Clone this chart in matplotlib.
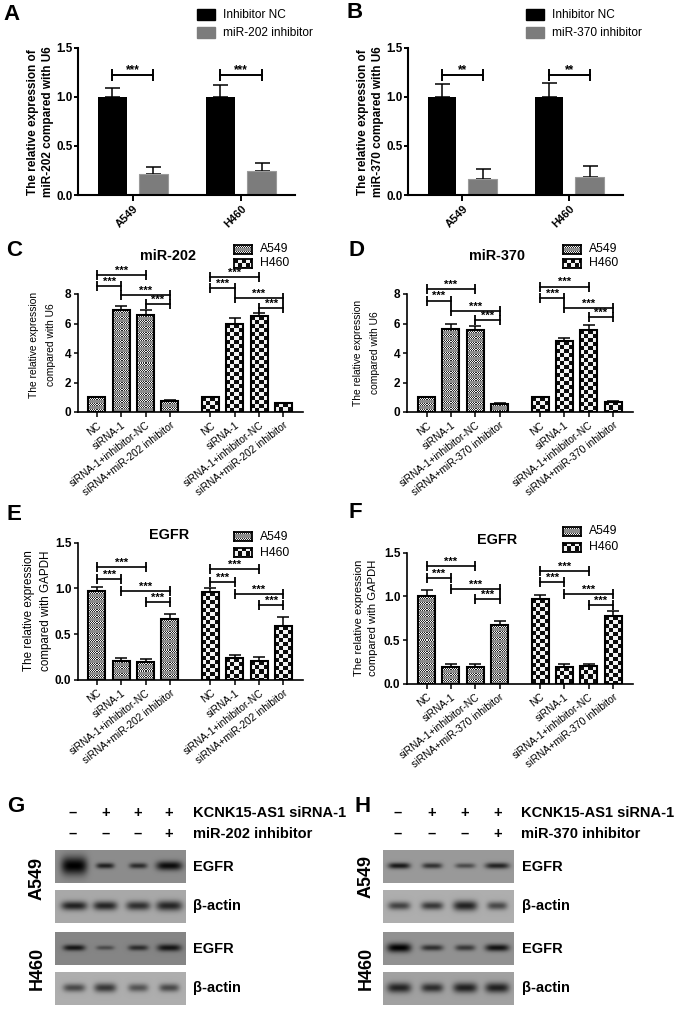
import numpy as np
import matplotlib
matplotlib.use('Agg')
import matplotlib.pyplot as plt
from matplotlib.patches import Rectangle

plt.rcParams['font.family'] = ['Liberation Sans', 'DejaVu Sans']
W, H = 677, 1009
fig = plt.figure(figsize=(W / 100, H / 100), dpi=100, facecolor='white')


def px_axes(x0, ytop, x1, ybot):
    ax = fig.add_axes([x0 / W, 1 - ybot / H, (x1 - x0) / W, (ybot - ytop) / H])
    ax.patch.set_alpha(0)
    for s in ('top', 'right'):
        ax.spines[s].set_visible(False)
    return ax


def ftext(x, y, s, **kw):
    kw.setdefault('ha', 'left')
    kw.setdefault('va', 'center')
    fig.text(x / W, 1 - y / H, s, **kw)


# ---------- data: top bar panels ----------
groups_top = ['A549', 'H460']
a_labels = ['Inhibitor NC', 'miR-202 inhibitor']
b_labels = ['Inhibitor NC', 'miR-370 inhibitor']
a_nc = [1.0, 1.0]
a_nc_err = [0.09, 0.12]
a_inh = [0.21, 0.24]
a_inh_err = [0.08, 0.09]
b_nc = [1.0, 1.0]
b_nc_err = [0.13, 0.14]
b_inh = [0.16, 0.18]
b_inh_err = [0.11, 0.12]
top_bracket = 1.22

# ---------- data: grouped panels ----------
cats_202 = ['NC', 'siRNA-1', 'siRNA-1+inhibitor-NC', 'siRNA+miR-202 inhibitor']
cats_370 = ['NC', 'siRNA-1', 'siRNA-1+inhibitor-NC', 'siRNA+miR-370 inhibitor']
c_vals = [1.0, 6.9, 6.6, 0.72, 1.0, 5.95, 6.5, 0.58]
c_errs = [0.05, 0.3, 0.3, 0.08, 0.03, 0.4, 0.2, 0.05]
c_brk = [9.3, 8.54, 7.9, 7.3, 9.13, 8.38, 7.75, 7.05]
d_vals = [1.0, 5.65, 5.55, 0.55, 1.0, 4.8, 5.55, 0.68]
d_errs = [0.05, 0.35, 0.3, 0.05, 0.05, 0.25, 0.35, 0.04]
d_brk = [8.34, 7.55, 6.85, 6.24, 8.5, 7.7, 7.05, 6.44]
e_vals = [0.97, 0.21, 0.19, 0.66, 0.96, 0.24, 0.2, 0.59]
e_errs = [0.05, 0.03, 0.04, 0.06, 0.04, 0.03, 0.05, 0.1]
e_brk = [1.237, 1.10, 0.97, 0.847, 1.208, 1.073, 0.94, 0.818]
f_vals = [1.0, 0.19, 0.19, 0.67, 0.97, 0.19, 0.2, 0.77]
f_errs = [0.07, 0.03, 0.04, 0.05, 0.05, 0.04, 0.03, 0.06]
f_brk = [1.35, 1.206, 1.084, 0.966, 1.29, 1.168, 1.023, 0.90]
x_positions = [0, 1, 2, 3, 4.67, 5.67, 6.67, 7.67]
bracket_spans = [(0, 2), (0, 1), (1, 3), (2, 3)]

# ---------- data: blots (darkness, half width px, half height px) ----------
blot_cols = ['-', '+', '+', '+']
blot_inh = ['-', '-', '-', '+']
g_bx = [19, 50, 83, 114]
h_bx = [16, 49, 82, 114]
g1_bg, g1 = 0.55, [(1.0, 13, 9), (0.78, 9, 2.8), (0.7, 9, 2.8), (0.92, 13, 4.5)]
g2_bg, g2 = 0.66, [(0.8, 13, 4.5), (0.78, 12, 4.5), (0.72, 12, 4.5), (0.78, 13, 5)]
g3_bg, g3 = 0.52, [(0.85, 11, 3), (0.45, 9, 2.2), (0.68, 10, 2.8), (0.85, 12, 3.5)]
g4_bg, g4 = 0.68, [(0.58, 11, 4), (0.68, 11, 4.5), (0.52, 10, 4), (0.58, 10, 4)]
h1_bg, h1 = 0.6, [(0.85, 11, 3), (0.68, 10, 2.8), (0.52, 10, 2.5), (0.78, 12, 3)]
h2_bg, h2 = 0.68, [(0.62, 11, 4), (0.68, 11, 4), (0.8, 12, 5), (0.58, 10, 4)]
h3_bg, h3 = 0.57, [(1.0, 12, 4.5), (0.68, 11, 3), (0.62, 10, 3), (0.88, 12, 3.5)]
h4_bg, h4 = 0.63, [(0.78, 12, 5), (0.72, 11, 4.5), (0.8, 12, 5), (0.8, 12, 5)]


def pattern(kind, nx, ny):
    yy, xx = np.indices((max(ny, 1), max(nx, 1)))
    if kind == 'fine':
        chk = np.where((xx + yy) % 2 == 0, 0.15, 0.95)
        return np.where((yy // 3) % 2 == 0, chk, 0.55)
    return np.where(((xx // 4) + (yy // 4)) % 2 == 0, 0.05, 0.95)


def panel_top(ax, nc, nc_err, inh, inh_err, stars, legend, lx, ly_pos):
    xs = np.arange(len(groups_top))
    w, off = 0.268, 0.19
    ax.bar(xs - off, nc, w, color='black', zorder=2)
    ax.bar(xs + off, inh, w, color='#7c7c7c', edgecolor='#9a9a9a', linewidth=0.8, zorder=2)
    ekw = dict(fmt='none', ecolor='black', elinewidth=1.1, capsize=5.4, capthick=1.1, zorder=1)
    ax.errorbar(xs - off, nc, yerr=[[0, 0], nc_err], **ekw)
    ax.errorbar(xs + off, inh, yerr=[[0, 0], inh_err], **ekw)
    ax.set_xlim(-0.506, 1.5)
    ax.set_ylim(0, 1.5)
    ax.set_yticks([0, 0.5, 1.0, 1.5], ['0.0', '0.5', '1.0', '1.5'], fontweight='bold', fontsize=8.4)
    ax.set_xticks(xs)
    ax.set_xticklabels(groups_top, rotation=45, ha='right', rotation_mode='anchor',
                       fontweight='bold', fontsize=8)
    ax.tick_params(axis='y', length=3, width=1.4, pad=1)
    ax.tick_params(axis='x', length=4.2, width=1.4, pad=2)
    ax.spines['left'].set_linewidth(1.5)
    ax.spines['bottom'].set_linewidth(1.5)
    for x in xs:
        ax.plot([x - off, x + off], [top_bracket] * 2, color='black', lw=1.4, marker='|',
                ms=8, mew=1.4, clip_on=False, zorder=4)
        ax.annotate(stars, (x, top_bracket), xytext=(0, -0.5), textcoords='offset points',
                    ha='center', va='bottom', fontsize=8.5, fontweight='bold', zorder=4,
                    annotation_clip=False)
    for i, (lab, col) in enumerate(zip(legend, ['black', '#7c7c7c'])):
        fig.add_artist(Rectangle((lx / W, 1 - (ly_pos[i] + 11) / H), 18 / W, 11 / H, color=col,
                                 transform=fig.transFigure))
        ftext(lx + 26, ly_pos[i] + 5.5, lab, fontsize=8.6)


def panel_group(ax, xl, vals, errs, brks, cats, ymax, yticks, ylabs):
    ax.set_xlim(xl)
    ax.set_ylim(0, ymax)
    wpx = ax.get_window_extent().width / (xl[1] - xl[0])
    hpx = ax.get_window_extent().height / ymax
    bw = 0.70
    xs = np.array(x_positions)
    ax.errorbar(xs, vals, yerr=[np.zeros(8), errs], fmt='none', ecolor='black',
                elinewidth=1.1, capsize=4.6, capthick=1.1, zorder=1)
    for i, (x, v) in enumerate(zip(xs, vals)):
        kind = 'fine' if i < 4 else 'coarse'
        nx, ny = int(round(bw * wpx)), int(round(v * hpx))
        ax.imshow(pattern(kind, nx, ny), cmap='gray', vmin=0, vmax=1, aspect='auto',
                  interpolation='nearest', extent=[x - bw / 2, x + bw / 2, 0, v], zorder=2)
    ax.bar(xs, vals, bw, facecolor='none', edgecolor='black', linewidth=1.5, zorder=3)
    ax.set_xlim(xl)
    ax.set_ylim(0, ymax)
    ax.set_yticks(yticks, ylabs, fontweight='bold', fontsize=8.5)
    ax.set_xticks(xs)
    ax.set_xticklabels(cats + cats, rotation=38, ha='right', rotation_mode='anchor', fontsize=7.4)
    ax.tick_params(length=3.4, width=1.1, pad=2.5)
    ax.tick_params(axis='y', length=3, pad=1.5)
    ax.spines['left'].set_linewidth(1.2)
    ax.spines['bottom'].set_linewidth(1.2)
    for i, b in enumerate(brks):
        base = 0 if i < 4 else 4
        a, c = bracket_spans[i - base]
        xa, xc = xs[base + a], xs[base + c]
        ax.plot([xa, xc], [b, b], color='black', lw=1.2, marker='|', ms=7.5, mew=1.3,
                clip_on=False, zorder=4)
        ax.annotate('***', ((xa + xc) / 2, b), xytext=(0, -0.5), textcoords='offset points',
                    ha='center', va='bottom', fontsize=8, fontweight='bold', zorder=4,
                    annotation_clip=False)


def legend_group(x, y1, y2):
    for kind, y, lab in (('fine', y1, 'A549'), ('coarse', y2, 'H460')):
        a = fig.add_axes([x / W, 1 - (y + 9) / H, 18 / W, 9 / H])
        a.imshow(pattern(kind, 18, 9), cmap='gray', vmin=0, vmax=1, aspect='auto', interpolation='nearest')
        a.set_xticks([])
        a.set_yticks([])
        for s in a.spines.values():
            s.set_linewidth(1.3)
        ftext(x + 26, y + 4.5, lab, fontsize=8.8)


def blot(x0, y0, bx, bg, bands):
    h, w = 33, 131
    yy, xx = np.indices((h * 2, w * 2)) / 2.0
    img = np.full(xx.shape, float(bg))
    for cx, (s, hw, hh) in zip(bx, bands):
        img = img * (1 - s * np.exp(-((xx - cx) / hw) ** 4 - ((yy - h * 0.47) / hh) ** 2))
    a = fig.add_axes([x0 / W, 1 - (y0 + h) / H, w / W, h / H])
    a.imshow(img, cmap='gray', vmin=0, vmax=1, aspect='auto', interpolation='bilinear')
    a.axis('off')


# ---------- panels A, B ----------
toplab = dict(rotation=90, ha='center', fontweight='bold', fontsize=8.5,
              multialignment='center', linespacing=1.4)
axA = px_axes(78.3, 48, 295, 195)
panel_top(axA, a_nc, a_nc_err, a_inh, a_inh_err, '***', a_labels, 197, [9, 27])
ftext(40.5, 122, 'The relative expression of\nmiR-202 compared with U6', **toplab)
axB = px_axes(408.3, 48, 623, 195)
panel_top(axB, b_nc, b_nc_err, b_inh, b_inh_err, '**', b_labels, 526, [9, 27])
ftext(370.5, 122, 'The relative expression of\nmiR-370 compared with U6', **toplab)

# ---------- panels C-F ----------
axC = px_axes(77.7, 294, 303, 412)
panel_group(axC, (-0.794, 8.48), c_vals, c_errs, c_brk, cats_202, 8, [0, 2, 4, 6, 8], ['0', '2', '4', '6', '8'])
axD = px_axes(406.7, 294, 632.7, 412)
panel_group(axD, (-0.82, 8.48), d_vals, d_errs, d_brk, cats_370, 8, [0, 2, 4, 6, 8], ['0', '2', '4', '6', '8'])
axE = px_axes(77.7, 542.7, 303, 679.7)
panel_group(axE, (-0.794, 8.48), e_vals, e_errs, e_brk, cats_202, 1.5, [0, 0.5, 1.0, 1.5], ['0.0', '0.5', '1.0', '1.5'])
axF = px_axes(406.7, 552.7, 632.7, 683.7)
panel_group(axF, (-0.82, 8.48), f_vals, f_errs, f_brk, cats_370, 1.5, [0, 0.5, 1.0, 1.5], ['0.0', '0.5', '1.0', '1.5'])

legend_group(234, 245, 259)
legend_group(563, 245, 259)
legend_group(234, 532, 548)
legend_group(563, 527, 543)

ftext(168, 256, 'miR-202', ha='center', fontweight='bold', fontsize=10.4)
ftext(497, 256, 'miR-370', ha='center', fontweight='bold', fontsize=10.4)
ftext(169, 535, 'EGFR', ha='center', fontweight='bold', fontsize=10.4)
ftext(497, 540, 'EGFR', ha='center', fontweight='bold', fontsize=10.4)

ylab_kw = dict(rotation=90, ha='center', multialignment='center')
ftext(42.5, 345, 'The relative expression\ncompared with U6', fontsize=7.4, linespacing=1.85, **ylab_kw)
ftext(366.5, 353, 'The relative expression\ncompared with U6', fontsize=7.4, linespacing=1.85, **ylab_kw)
ftext(37.5, 611, 'The relative expression\ncompared with GAPDH', fontsize=8.4, linespacing=1.5, **ylab_kw)
ftext(366, 618, 'The relative expression\ncompared with GAPDH', fontsize=8.1, linespacing=1.55, **ylab_kw)

# ---------- blots ----------
for y0, bg, bands in ((850, g1_bg, g1), (890, g2_bg, g2), (932, g3_bg, g3), (972, g4_bg, g4)):
    blot(55, y0, g_bx, bg, bands)
for y0, bg, bands in ((850, h1_bg, h1), (890, h2_bg, h2), (932, h3_bg, h3), (972, h4_bg, h4)):
    blot(383, y0, h_bx, bg, bands)

sign = {'-': '\u2013', '+': '+'}
for xs_s, lx, inh_lab, lab_x in (((73, 106, 138, 169), 193, 'miR-202 inhibitor', 193),
                                 ((398, 432, 465, 498), 521, 'miR-370 inhibitor', 522)):
    for x, s1, s2 in zip(xs_s, blot_cols, blot_inh):
        ftext(x, 813, sign[s1], ha='center', fontweight='bold', fontsize=10.5)
        ftext(x, 834, sign[s2], ha='center', fontweight='bold', fontsize=10.5)
    ftext(lx, 813, 'KCNK15-AS1 siRNA-1', fontweight='bold', fontsize=10.5)
    ftext(lx, 834, inh_lab, fontweight='bold', fontsize=10.5)
    for y, s in ((867, 'EGFR'), (906, '\u03b2-actin'), (949, 'EGFR'), (988, '\u03b2-actin')):
        ftext(lab_x, y, s, fontweight='bold', fontsize=10.5)

for x, y, s in ((37, 878, 'A549'), (37, 968, 'H460'), (366, 877, 'A549'), (366, 968, 'H460')):
    ftext(x, y, s, rotation=90, ha='center', fontweight='bold', fontsize=13)

for x, y, s in ((3, 14, 'A'), (347, 12, 'B'), (6, 251, 'C'), (349, 251, 'D'),
                (6, 515, 'E'), (348, 512, 'F'), (7, 806, 'G'), (355, 806, 'H')):
    ftext(x, y, s, fontweight='bold', fontsize=16)

fig.savefig('out.png', dpi=100, facecolor='white')
